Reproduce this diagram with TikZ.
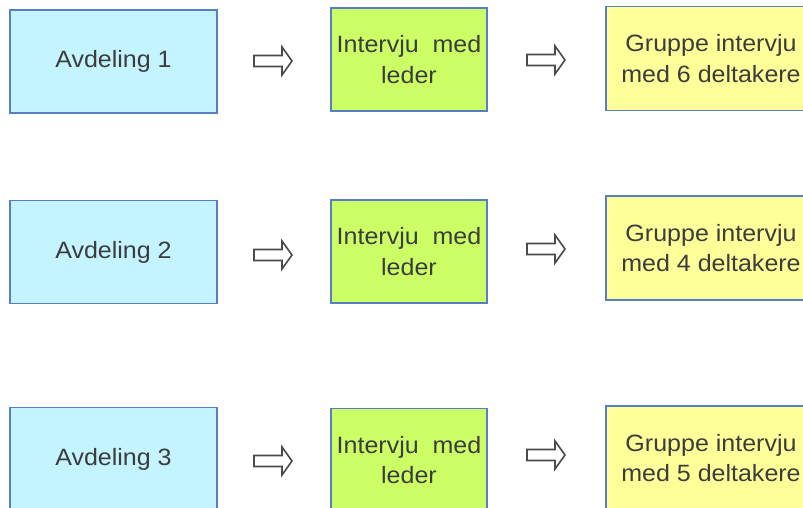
\documentclass[tikz,border=0pt]{standalone}
\usepackage{fontspec}
\setmainfont{Liberation Sans}[FakeStretch=1.06]
\definecolor{boxline}{HTML}{5A7EC6}
\definecolor{unitfill}{HTML}{C4F4FF}
\definecolor{leaderfill}{HTML}{CCFF66}
\definecolor{groupfill}{HTML}{FFFF99}
\definecolor{inktext}{HTML}{3C3C3C}
\definecolor{arrowink}{HTML}{4A4A4A}
\begin{document}
\begin{tikzpicture}[x=0.75pt,y=-0.75pt,
  box/.style={draw=boxline, line width=1.3pt, inner sep=0pt, align=center,
    text=inktext, font=\fontsize{17.7}{23}\selectfont},
  unit/.style={box, fill=unitfill, minimum width=155.25pt, minimum height=77.25pt},
  leader/.style={box, fill=leaderfill, minimum width=117pt, minimum height=77.25pt},
  group/.style={box, fill=groupfill, minimum width=157.5pt, minimum height=78pt},
  hollowarrow/.pic={
    \draw[draw=arrowink, fill=white, line width=1.2pt, line join=miter]
      (-19,-5.5) -- (9,-5.5) -- (9,-14) -- (19,0) -- (9,14) -- (9,5.5) -- (-19,5.5) -- cycle;
  }]
\useasboundingbox (0,0) rectangle (803,507);
\clip (0,0) rectangle (803,507);

% row 1
\node[unit]   (u1) at (113.5,61.5) {Avdeling 1};
\node[leader] (l1) at (409,59.5)   {Intervju\ \ med\\leder};
\node[group]  (g1) at (711,58.5)   {Gruppe intervju\\med 6 deltakere};
\coordinate (a11) at (273,61);
\coordinate (a12) at (546,60);
\pic at (a11) {hollowarrow};
\pic at (a12) {hollowarrow};

% row 2
\node[unit]   (u2) at (113.5,252)  {Avdeling 2};
\node[leader] (l2) at (409,251.5)  {Intervju\ \ med\\leder};
\node[group]  (g2) at (711,248)    {Gruppe intervju\\med 4 deltakere};
\coordinate (a21) at (273,255);
\coordinate (a22) at (546,249);
\pic at (a21) {hollowarrow};
\pic at (a22) {hollowarrow};

% row 3
\node[unit]   (u3) at (113.5,459)  {Avdeling 3};
\node[leader] (l3) at (409,460)    {Intervju\ \ med\\leder};
\node[group]  (g3) at (711,458)    {Gruppe intervju\\med 5 deltakere};
\coordinate (a31) at (273,461);
\coordinate (a32) at (546,455);
\pic at (a31) {hollowarrow};
\pic at (a32) {hollowarrow};
\end{tikzpicture}
\end{document}
